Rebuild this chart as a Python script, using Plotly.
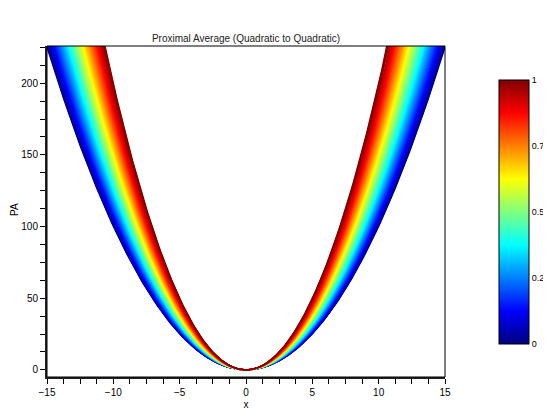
import numpy as np
import plotly.graph_objects as go

# Proximal average of f0(x) = a0*x^2 and f1(x) = a1*x^2 (coefficients)
a0 = 1.0
a1 = 2.0
n_lines = 101
lambdas = [i / (n_lines - 1) for i in range(n_lines)]
x_vals = np.linspace(-15, 15, 601)
x_ticks = [-15, -10, -5, 0, 5, 10, 15]
y_ticks = [0, 50, 100, 150, 200]
cbar_ticks = [0, 0.25, 0.5, 0.75, 1]
cbar_labels = ["0", "0.25", "0.5", "0.75", "1"]

jet = [
    [0.0, "rgb(0,0,128)"],
    [0.125, "rgb(0,0,255)"],
    [0.375, "rgb(0,255,255)"],
    [0.625, "rgb(255,255,0)"],
    [0.875, "rgb(255,0,0)"],
    [1.0, "rgb(128,0,0)"],
]


def jet_color(t):
    for i in range(len(jet) - 1):
        t0, c0 = jet[i]
        t1, c1 = jet[i + 1]
        if t0 <= t <= t1:
            f = (t - t0) / (t1 - t0)
            p0 = [int(v) for v in c0[4:-1].split(",")]
            p1 = [int(v) for v in c1[4:-1].split(",")]
            c = [round(p0[k] + f * (p1[k] - p0[k])) for k in range(3)]
            return f"rgb({c[0]},{c[1]},{c[2]})"
    return jet[-1][1]


def prox_coef(lam):
    A = 2 * a0
    B = 2 * a1
    return 0.5 * (1.0 / ((1 - lam) / (A + 1) + lam / (B + 1)) - 1)


fig = go.Figure()
for lam in lambdas:
    c = prox_coef(lam)
    fig.add_trace(go.Scatter(
        x=x_vals, y=c * x_vals ** 2, mode="lines",
        line=dict(color=jet_color(lam), width=1.2),
        showlegend=False, hoverinfo="skip",
    ))

# dummy trace for the colorbar
fig.add_trace(go.Scatter(
    x=[0, 0], y=[-100, -100], mode="markers",
    marker=dict(size=0.1, color=[0, 1], cmin=0, cmax=1, colorscale=jet, showscale=True,
                colorbar=dict(
                    x=1.136, xanchor="left", xpad=0,
                    y=0.498, yanchor="middle", ypad=0,
                    len=264, lenmode="pixels",
                    thickness=30, thicknessmode="pixels",
                    outlinewidth=1, outlinecolor="black",
                    tickvals=cbar_ticks, ticktext=cbar_labels,
                    ticks="", ticklabelposition="outside",
                    tickfont=dict(size=9, color="black"),
                )),
    showlegend=False, hoverinfo="skip",
))

axis_font = dict(family="Liberation Sans, Arial, sans-serif", size=10, color="black")

# page body has an 8px margin; compensate so the plot lands where the reference has it
fig.update_layout(
    width=543, height=402,
    margin=dict(l=39, r=106, t=38, b=33, autoexpand=False),
    plot_bgcolor="white", paper_bgcolor="white",
    font=axis_font,
    title=dict(text="Proximal Average (Quadratic to Quadratic)", x=0.5, xref="paper",
               y=1 - 30 / 402, yanchor="middle", font=dict(size=10, color="#222")),
    xaxis=dict(
        range=[-15, 15], tickvals=x_ticks, ticks="outside", ticklen=5, tickcolor="black",
        showline=True, linewidth=2, linecolor="#222", showgrid=False, zeroline=False,
        minor=dict(dtick=1.25, tick0=-15, ticks="outside", ticklen=5, tickcolor="black"),
        title=dict(text="x", standoff=8, font=dict(size=10)),
        tickfont=dict(size=10), automargin=False,
    ),
    yaxis=dict(
        range=[-5, 226], tickvals=y_ticks, ticks="outside", ticklen=5, tickcolor="black",
        showline=True, linewidth=2, linecolor="#222", showgrid=False, zeroline=False,
        minor=dict(dtick=12.5, tick0=0, ticks="outside", ticklen=5, tickcolor="black"),
        tickfont=dict(size=10), automargin=False,
    ),
    annotations=[dict(text="PA", xref="paper", yref="paper", x=-0.08, y=0.505,
                      xanchor="center", yanchor="middle", textangle=-90,
                      showarrow=False, font=dict(size=10, color="black"))],
    shapes=[dict(type="rect", xref="paper", yref="paper", x0=0, x1=1, y0=0, y1=1,
                 line=dict(color="black", width=1), layer="above")],
)

fig.write_html("out.html", post_script="document.body.style.overflow='hidden';")
